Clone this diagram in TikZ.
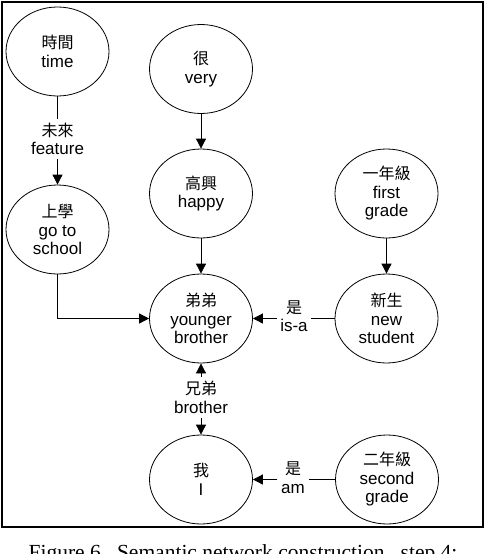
\documentclass[tikz,border=0pt]{standalone}
\usepackage{fontspec}
\setmainfont{Liberation Serif}
\setsansfont{Liberation Sans}
\newfontfamily\zhfont{Noto Sans CJK TC}
\usepackage{tikz}
\usetikzlibrary{shapes.geometric,arrows.meta}
\newcommand{\zh}[1]{{\zhfont\fontsize{16}{18.5}\selectfont #1}}
\tikzset{
  concept/.style={ellipse,draw,line width=0.8pt,minimum width=103pt,minimum height=89pt,
    inner sep=0pt,align=center,font=\sffamily\fontsize{17}{18.5}\selectfont},
  rel/.style={align=center,inner xsep=3.5pt,inner ysep=4pt,font=\sffamily\fontsize{17}{18.5}\selectfont},
  link/.style={line width=0.8pt},
  arr/.style={link,-{Triangle[length=10pt,width=10pt]}}
}

\begin{document}
\begin{tikzpicture}[x=1pt,y=-1pt]
  \useasboundingbox (0,0) rectangle (492,554);
  \draw[line width=1.1pt] (2,2) rectangle (483,527);
  \node[concept] (time) at (57.5,51.5) {\zh{時間}\\time};
  \node[concept] (very) at (201,69) {\zh{很}\\very};
  \node[concept] (happy) at (201,193.5) {\zh{高興}\\happy};
  \node[concept] (school) at (57.5,229.5) {\zh{上學}\\go to\\school};
  \node[concept] (first) at (386.5,193.5) {\zh{一年級}\\first\\grade};
  \node[concept] (brother) at (201,318.5) {\zh{弟弟}\\younger\\brother};
  \node[concept] (student) at (386.5,318.5) {\zh{新生}\\new\\student};
  \node[concept] (me) at (201,479.5) {\zh{我}\\I};
  \node[concept] (second) at (387,479.5) {\zh{二年級}\\second\\grade};
  \node[rel] (feature) at (57.5,139) {\zh{未來}\\feature};
  \node[rel] (isa) at (294,316) {\zh{是}\\is-a};
  \node[rel] (kin) at (201,397.5) {\zh{兄弟}\\brother};
  \node[rel] (am) at (293,477.5) {\zh{是}\\am};
  \draw[link] (time) -- (feature);
  \draw[arr] (feature) -- (school);
  \draw[arr] (very) -- (happy);
  \draw[arr] (happy) -- (brother);
  \draw[arr] (first) -- (student);
  \draw[arr] (school.south) |- (brother.west);
  \draw[link] (student.west) -- (student.west -| isa.east);
  \draw[arr] (isa.west |- brother.east) -- (brother.east);
  \draw[arr] (kin) -- (brother);
  \draw[arr] (kin) -- (me);
  \draw[link] (second.west) -- (second.west -| am.east);
  \draw[arr] (am.west |- me.east) -- (me.east);
  \node[anchor=base,font=\rmfamily\fontsize{21.5}{24}\selectfont] (caption) at (243,559)
    {Figure 6.\ \ Semantic network construction,\ \ step 4:};
\end{tikzpicture}
\end{document}
